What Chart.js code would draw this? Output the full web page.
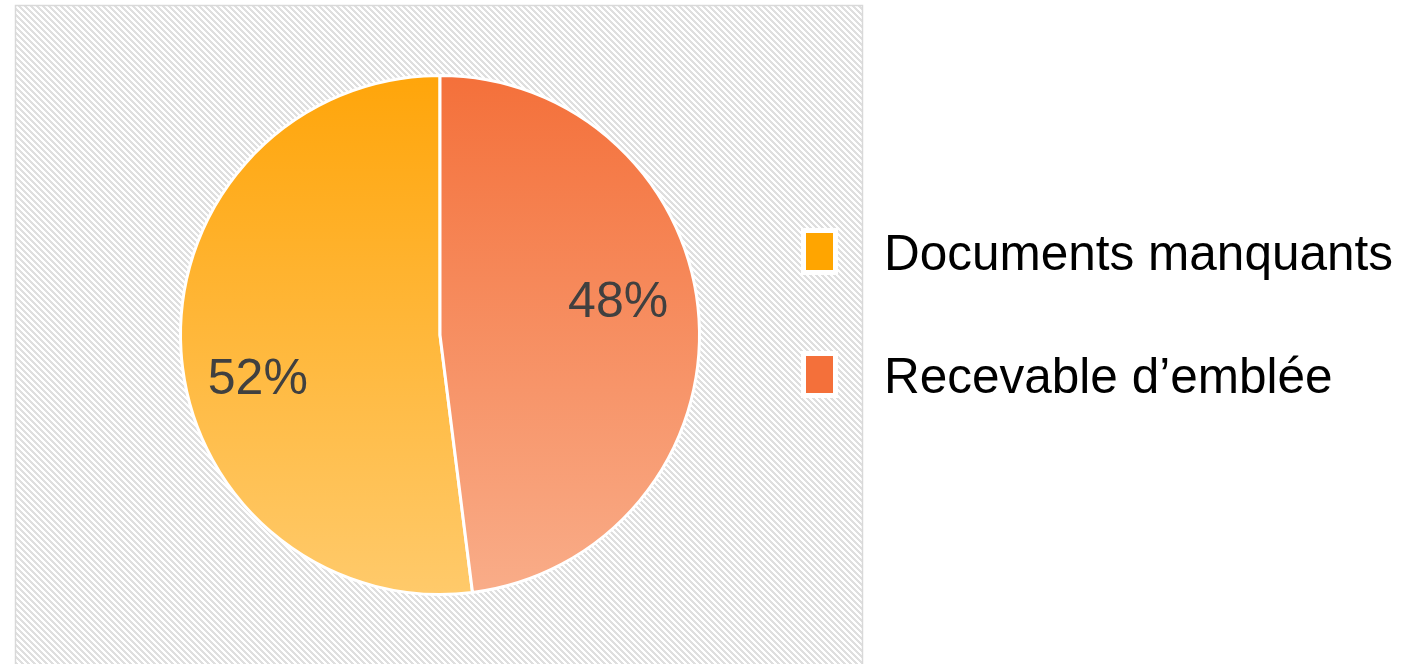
<!DOCTYPE html>
<html>
<head>
<meta charset="utf-8">
<script src="https://cdn.jsdelivr.net/npm/chart.js@4.4.0/dist/chart.umd.min.js"></script>
<style>
	html, body { margin: 0; padding: 0; background: #fff; }
	#wrap { width: 1422px; height: 664px; position: relative; }
</style>
</head>
<body>
<div id="wrap"><canvas id="pieChart"></canvas></div>
<script>
	'use strict';

	// Data
	const categories = ['Documents manquants', 'Recevable d’emblée'];
	const shares = [52, 48];
	const solidColors = ['#FFA500', '#F4703A'];
	const gradientTops = ['#FFA50A', '#F4703A'];
	const gradientBottoms = ['#FFCA6B', '#F9AD89'];

	// Hatched panel behind the pie
	function makeHatch(ctx) {
		const tile = document.createElement('canvas');
		tile.width = 6;
		tile.height = 6;
		const t = tile.getContext('2d');
		t.fillStyle = '#ffffff';
		t.fillRect(0, 0, 6, 6);
		t.fillStyle = '#dfdfdf';
		for (let y = 0; y < 6; y++) {
			for (let x = 0; x < 6; x++) {
				if (((x - y) % 6 + 6) % 6 < 3) t.fillRect(x, y, 1, 1);
			}
		}
		return ctx.createPattern(tile, 'repeat');
	}

	const panelPlugin = {
		id: 'panel',
		beforeDraw(chart) {
			const ctx = chart.ctx;
			ctx.save();
			ctx.fillStyle = makeHatch(ctx);
			ctx.fillRect(15, 5, 848, 700);
			ctx.strokeStyle = '#d9d9d9';
			ctx.lineWidth = 1.5;
			ctx.strokeRect(15.5, 5.5, 847, 700);
			ctx.restore();
		}
	};

	// Percent labels inside the slices
	const sliceLabelPlugin = {
		id: 'sliceLabels',
		afterDatasetsDraw(chart) {
			const ctx = chart.ctx;
			const meta = chart.getDatasetMeta(0);
			const total = shares.reduce((a, b) => a + b, 0);
			ctx.save();
			ctx.font = '50px "Liberation Sans", Arial, sans-serif';
			ctx.fillStyle = '#404040';
			ctx.textAlign = 'center';
			ctx.textBaseline = 'middle';
			meta.data.forEach((arc, i) => {
				const p = arc.getProps(['x', 'y', 'startAngle', 'endAngle', 'outerRadius'], true);
				const mid = (p.startAngle + p.endAngle) / 2 - 8.5 * Math.PI / 180;
				const r = p.outerRadius * 0.71;
				const text = Math.round(shares[i] / total * 100) + '%';
				ctx.fillText(text, p.x + Math.cos(mid) * r - 2, p.y + Math.sin(mid) * r + 7);
			});
			ctx.restore();
		}
	};

	// Legend on the right
	const legendPlugin = {
		id: 'sideLegend',
		afterDraw(chart) {
			const ctx = chart.ctx;
			const rows = [270, 393];
			ctx.save();
			ctx.font = '49.5px "Liberation Sans", Arial, sans-serif';
			ctx.textBaseline = 'alphabetic';
			ctx.textAlign = 'left';
			categories.forEach((label, i) => {
				const base = rows[i];
				ctx.fillStyle = '#ffffff';
				ctx.fillRect(801, base - 42, 37, 47);
				ctx.fillStyle = solidColors[i];
				ctx.fillRect(806, base - 37, 27, 37);
				ctx.fillStyle = '#000000';
				ctx.fillText(label, 884, base);
			});
			ctx.restore();
		}
	};

	new Chart(document.getElementById('pieChart'), {
		type: 'pie',
		data: {
			labels: categories,
			datasets: [{
				data: shares,
				backgroundColor: function (context) {
					const chart = context.chart;
					const area = chart.chartArea;
					const i = context.dataIndex;
					if (!area) return solidColors[i];
					const g = chart.ctx.createLinearGradient(0, area.top, 0, area.bottom);
					g.addColorStop(0, gradientTops[i]);
					g.addColorStop(1, gradientBottoms[i]);
					return g;
				},
				borderColor: '#ffffff',
				borderWidth: 3
			}]
		},
		options: {
			responsive: true,
			maintainAspectRatio: false,
			animation: false,
			rotation: 172.8,
			layout: {
				padding: { left: 179, right: 721, top: 74, bottom: 68 }
			},
			plugins: {
				legend: { display: false },
				tooltip: { enabled: false }
			}
		},
		plugins: [panelPlugin, sliceLabelPlugin, legendPlugin]
	});
</script>
</body>
</html>
